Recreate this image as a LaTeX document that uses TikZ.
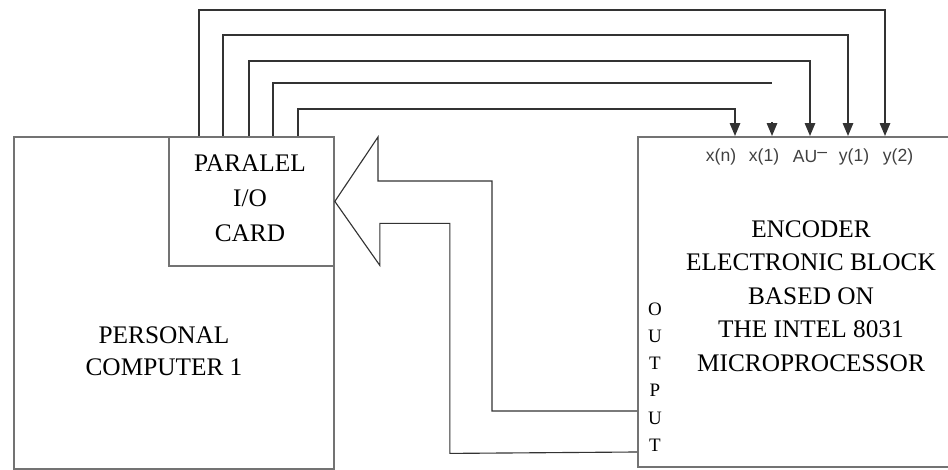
\documentclass[tikz,border=0pt]{standalone}
\usepackage{fontspec}
\setmainfont{Liberation Serif}
\newfontfamily\pinfont{Liberation Sans}
\usetikzlibrary{arrows.meta, positioning}

\begin{document}
\begin{tikzpicture}[
    x=0.25mm, y=-0.25mm, % One unit per pixel, y pointing down
    >={Triangle[length=3.2mm, width=2.6mm]}, % Default arrow tip
    block/.style={draw=black!55, line width=1.3pt, rectangle, inner sep=0pt, anchor=north west}, % Style for the boxes
    wire/.style={draw=black!80, line width=0.9pt}, % Style for the signal lines
    boxtext/.style={align=center, font=\fontsize{18}{24.8}\selectfont}, % Style for texts in the boxes
    pinlabel/.style={font=\pinfont\fontsize{12.5}{14}\selectfont, text=black!75} % Style for the input labels
]

    \useasboundingbox (0,0) rectangle (948,470);

    % --- Left side: PC with the I/O card ---
    \node[block, minimum width=80mm, minimum height=83mm] (pc) at (13,136) {};
    \node[block, minimum width=41.25mm, minimum height=32.25mm] (card) at (168,136) {};
    \node[boxtext] (cardtext) at (250,198) {PARALEL\\I/O\\CARD};
    \node[boxtext, font=\fontsize{18}{22.8}\selectfont] (pctext) at (164,351) {PERSONAL\\COMPUTER 1};

    % --- Right side: encoder block ---
    \node[block, minimum width=82mm, minimum height=82.5mm] (enc) at (637,136) {};
    \node[boxtext, font=\fontsize{18}{23.9}\selectfont] (enctext) at (811,296)
        {ENCODER\\ELECTRONIC BLOCK\\BASED ON\\THE INTEL 8031\\MICROPROCESSOR};
    \node[align=center, font=\fontsize{13.5}{19.4}\selectfont] (outtext) at (655,377) {O\\U\\T\\P\\U\\T};

    % Input labels
    \node[pinlabel] (lxn) at (721,157) {x(n)};
    \node[pinlabel] (lx1) at (764,157) {x(1)};
    \node[pinlabel] (lau) at (810,157) {AU\raisebox{.6ex}{\textendash}};
    \node[pinlabel] (ly1) at (854,157) {y(1)};
    \node[pinlabel] (ly2) at (898,157) {y(2)};

    % --- Signal lines from the card to the encoder ---
    \foreach \i/\x in {1/199, 2/223, 3/249, 4/273, 5/298}
        \coordinate (out\i) at (\x,136);
    \foreach \i/\x in {1/735, 2/772, 3/810, 4/848, 5/885}
        \coordinate (in\i) at (\x,136);

    \foreach \o/\p/\t in {1/5/10, 2/4/35, 3/3/61, 5/1/109}
        \draw[wire, ->] (out\o) |- (in\p |- 0,\t) -- (in\p);
    \draw[wire] (out4) |- (in2 |- 0,83); % this one stops short
    \draw[wire, ->] ([yshift=3.4mm]in2) -- (in2);

    % --- Wide output arrow from the encoder to the card ---
    \draw[wire, line width=0.8pt] (enc.west |- 0,411) -- ++(-145,0) |- ++(-114,-230) -- ++(0,-44)
        -- (card.east) -- ++(45,64) -- ++(0,-42) -| ++(70,230) -- (enc.west |- 0,452);

\end{tikzpicture}
\end{document}
